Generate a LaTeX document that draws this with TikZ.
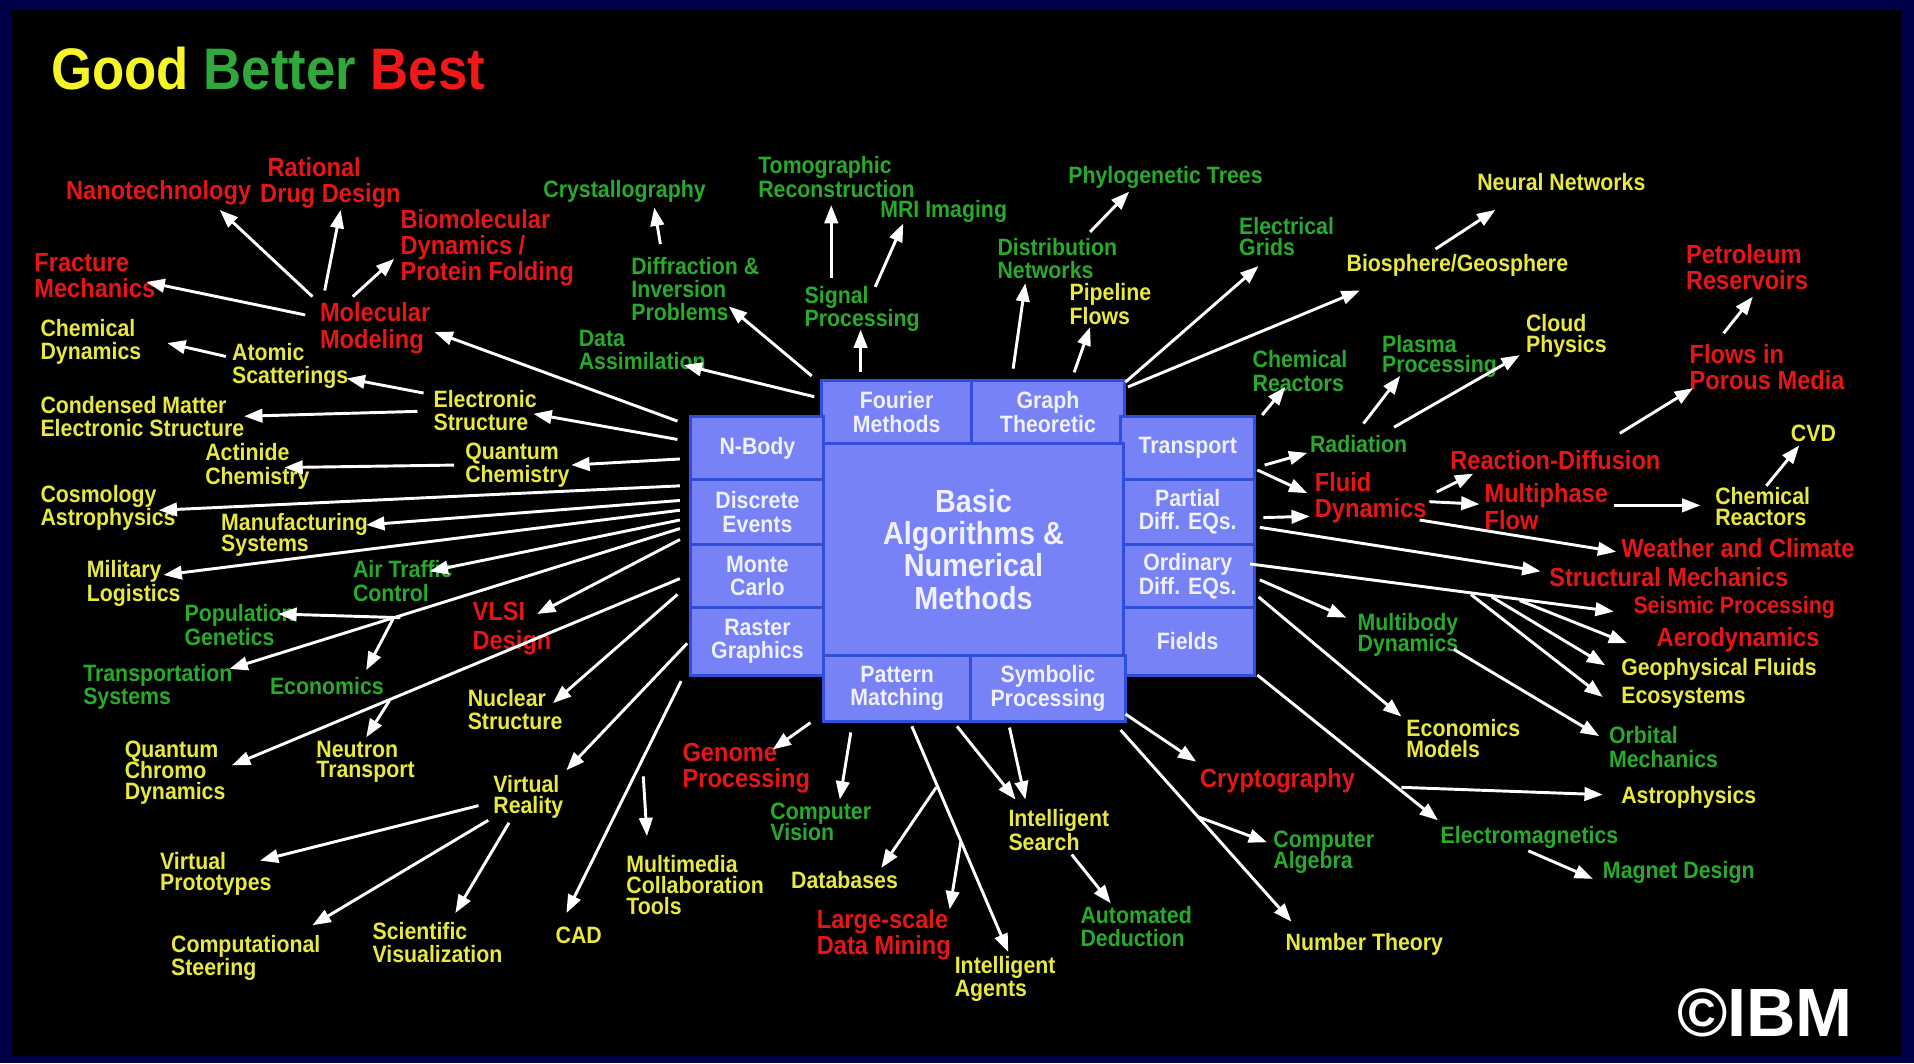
\documentclass[tikz,border=0pt]{standalone}
\usepackage{fontspec}
\setmainfont{Liberation Sans}[FakeStretch=0.9]
\newfontfamily\plainsans{Liberation Sans}
\usetikzlibrary{arrows.meta}
\definecolor{navy}{RGB}{0,0,72}
\definecolor{ylw}{RGB}{232,232,64}
\definecolor{grn}{RGB}{40,170,44}
\definecolor{rd}{RGB}{228,22,22}
\definecolor{tylw}{RGB}{245,245,40}
\definecolor{tgrn}{RGB}{48,168,60}
\definecolor{trd}{RGB}{240,24,24}
\definecolor{cellfill}{RGB}{118,130,246}
\definecolor{cellline}{RGB}{48,78,220}
\definecolor{celltext}{RGB}{240,240,255}
\tikzset{
  lab/.style={inner sep=0pt, anchor=west, align=left, font=\bfseries\fontsize{19.4}{19}\selectfont},
  yl/.style={lab, text=ylw},
  gr/.style={lab, text=grn},
  rl/.style={lab, text=rd, font=\bfseries\fontsize{21.5}{21.5}\selectfont},
  cell/.style={draw=cellline, line width=2.5pt, fill=cellfill, text=celltext, align=center,
    inner sep=0pt, font=\bfseries\fontsize{19.4}{19}\selectfont},
  arr/.style={draw=white, line width=2.4pt, -{Triangle[length=15pt,width=11pt]}},
}
\begin{document}
\begin{tikzpicture}[x=1pt,y=-1pt]
\useasboundingbox (0,0) rectangle (1568,871);
% frame
\fill[navy] (0,0) rectangle (1568,871);
\fill[black] (10,8) rectangle (1558,865);

% title and mark
\node[anchor=base west, inner sep=0pt, font=\bfseries\fontsize{48}{48}\selectfont] (title) at (42,73)
  {\textcolor{tylw}{Good} \textcolor{tgrn}{Better} \textcolor{trd}{Best}};
\node[anchor=base east, inner sep=0pt, text=white, font=\plainsans\bfseries\fontsize{56}{56}\selectfont] (ibm) at (1518,849) {©IBM};

% central block
\node[cell, minimum width=123pt, minimum height=51pt] (fourier) at (734.5,337.5) {Fourier\\Methods};
\node[cell, minimum width=125pt, minimum height=51pt] (graph) at (858.5,337.5) {Graph\\Theoretic};
\node[cell, minimum width=109pt, minimum height=52pt] (nbody) at (620.5,367) {N-Body};
\node[cell, minimum width=109pt, minimum height=53pt] (discrete) at (620.5,419.5) {Discrete\\Events};
\node[cell, minimum width=109pt, minimum height=52pt] (monte) at (620.5,472) {Monte\\Carlo};
\node[cell, minimum width=109pt, minimum height=55pt] (raster) at (620.5,525.5) {Raster\\Graphics};
\node[cell, minimum width=110pt, minimum height=52pt] (transportc) at (973,367) {Transport};
\node[cell, minimum width=110pt, minimum height=53pt] (partial) at (973,419.5) {Partial\\Diff. EQs.};
\node[cell, minimum width=110pt, minimum height=52pt] (ordinary) at (973,472) {Ordinary\\Diff. EQs.};
\node[cell, minimum width=110pt, minimum height=55pt] (fields) at (973,525.5) {Fields};
\node[cell, minimum width=120pt, minimum height=54pt] (pattern) at (735,564) {Pattern\\Matching};
\node[cell, minimum width=127pt, minimum height=54pt] (symbolic) at (858.5,564) {Symbolic\\Processing};
\node[cell, minimum width=245pt, minimum height=174pt, font=\bfseries\fontsize{26.2}{26.5}\selectfont]
  (core) at (797.5,450) {Basic\\Algorithms \&\\Numerical\\Methods};

% application areas
\node[rl] (molmod) at (262,269) {Molecular\\Modeling};
\node[rl] (nano) at (54,158) {Nanotechnology};
\node[rl] (rational) at (213,150) {\hspace*{6pt}Rational\\Drug Design};
\node[rl] (biomol) at (328,203) {Biomolecular\\Dynamics /\\Protein Folding};
\node[rl] (fracture) at (28,226) {Fracture\\Mechanics};
\node[yl] (chemdyn) at (33,280) {Chemical\\Dynamics};
\node[yl] (atomic) at (190,300) {Atomic\\Scatterings};
\node[yl] (condensed) at (33,341) {Condensed Matter\\Electronic Structure};
\node[yl] (electronic) at (355,336) {Electronic\\Structure};
\node[yl] (actinide) at (168,382) {Actinide\\Chemistry};
\node[yl] (quantchem) at (381,381) {Quantum\\Chemistry};
\node[yl] (cosmo) at (33,416) {Cosmology\\Astrophysics};
\node[yl] (manuf) at (181,438) {Manufacturing\\[-2pt]Systems};
\node[yl] (military) at (71,478) {Military\\Logistics};
\node[gr] (airtraffic) at (289,476) {Air Traffic\\Control};
\node[gr] (population) at (151,512) {Population\\Genetics};
\node[rl] (vlsi) at (387,515) {VLSI\\[2pt]Design};
\node[gr] (transp) at (68,563) {Transportation\\Systems};
\node[gr] (economics) at (221,562) {Economics};
\node[yl] (nuclear) at (383,581) {Nuclear\\Structure};
\node[yl] (qcd) at (102,633) {Quantum\\[-2pt]Chromo\\[-2pt]Dynamics};
\node[yl] (neutron) at (259,624) {Neutron\\[-2pt]Transport};
\node[yl] (vreal) at (404,653) {Virtual\\[-2pt]Reality};
\node[yl] (vproto) at (131,716) {Virtual\\[-2pt]Prototypes};
\node[yl] (steer) at (140,785) {Computational\\Steering};
\node[yl] (sciviz) at (305,772) {Scientific\\Visualization};
\node[yl] (cad) at (455,766) {CAD};
\node[yl] (multimedia) at (513,725) {Multimedia\\[-2pt]Collaboration\\[-2pt]Tools};
\node[rl] (genome) at (559,629) {Genome\\Processing};
\node[gr] (compvision) at (631,673) {Computer\\[-2pt]Vision};
\node[yl] (databases) at (648,721) {Databases};
\node[rl] (datamining) at (669,766) {Large-scale\\Data Mining};
\node[yl] (agents) at (782,802) {Intelligent\\Agents};
\node[yl] (isearch) at (826,680) {Intelligent\\Search};
\node[gr] (autoded) at (885,759) {Automated\\Deduction};
\node[yl] (numtheory) at (1053,774) {Number Theory};
\node[gr] (compalg) at (1043,698) {Computer\\[-2pt]Algebra};
\node[rl] (crypto) at (983,640) {Cryptography};
\node[gr] (electromag) at (1180,686) {Electromagnetics};
\node[gr] (magnet) at (1313,715) {Magnet Design};
\node[yl] (astro) at (1328,653) {Astrophysics};
\node[yl] (econmodels) at (1152,605) {Economics\\[-2pt]Models};
\node[gr] (orbital) at (1318,612) {Orbital\\Mechanics};
\node[gr] (multibody) at (1112,520) {Multibody\\[-2pt]Dynamics};
\node[yl] (ecosys) at (1328,572) {Ecosystems};
\node[yl] (geofluids) at (1328,548) {Geophysical Fluids};
\node[rl] (aero) at (1357,524) {Aerodynamics};
\node[rl, font=\bfseries\fontsize{19.4}{19}\selectfont] (seismic) at (1338,498) {Seismic Processing};
\node[rl] (structmech) at (1269,473) {Structural Mechanics};
\node[rl] (weather) at (1328,449) {Weather and Climate};
\node[yl] (chemreact2) at (1405,415) {Chemical\\[-2pt]Reactors};
\node[yl] (cvd) at (1467,355) {CVD};
\node[rl] (multiphase) at (1216,415) {Multiphase\\Flow};
\node[rl] (reacdiff) at (1188,377) {Reaction-Diffusion};
\node[rl] (fluid) at (1077,408) {Fluid\\Dynamics};
\node[gr] (radiation) at (1073,364) {Radiation};
\node[rl] (porous) at (1384,301) {Flows in\\Porous Media};
\node[rl] (petroleum) at (1381,219) {Petroleum\\Reservoirs};
\node[gr] (chemreact1) at (1026,304) {Chemical\\Reactors};
\node[gr] (plasma) at (1132,292) {Plasma\\[-2pt]Processing};
\node[yl] (cloud) at (1250,275) {Cloud\\[-2pt]Physics};
\node[yl] (biosphere) at (1103,217) {Biosphere/Geosphere};
\node[yl] (neural) at (1210,149) {Neural Networks};
\node[gr] (elecgrids) at (1015,194) {Electrical\\[-2pt]Grids};
\node[gr] (phylo) at (875,145) {Phylogenetic Trees};
\node[gr] (distrib) at (817,212) {Distribution\\Networks};
\node[yl] (pipeline) at (876,249) {Pipeline\\Flows};
\node[gr] (tomo) at (621,145) {Tomographic\\Reconstruction};
\node[gr] (mri) at (721,173) {MRI Imaging};
\node[gr] (signal) at (659,253) {Signal\\Processing};
\node[gr] (crystal) at (445,157) {Crystallography};
\node[gr] (diffraction) at (517,237) {Diffraction \&\\Inversion\\Problems};
\node[gr] (dataassim) at (474,287) {Data\\Assimilation};

% arrow end points
\path
 (256,243) coordinate (t1)  (180,172) coordinate (h1)
 (266,238) coordinate (t2)  (279,172) coordinate (h2)
 (289,243) coordinate (t3)  (323,212) coordinate (h3)
 (250,258) coordinate (t4)  (120,231) coordinate (h4)
 (555,345) coordinate (t5)  (356,272) coordinate (h5)
 (185,292) coordinate (t6)  (137,281) coordinate (h6)
 (347,322) coordinate (t7)  (284,310) coordinate (h7)
 (342,337) coordinate (t8)  (200,341) coordinate (h8)
 (555,360) coordinate (t9)  (437,339) coordinate (h9)
 (557,376) coordinate (t10) (468,381) coordinate (h10)
 (372,381) coordinate (t11) (233,383) coordinate (h11)
 (557,398) coordinate (t12) (130,418) coordinate (h12)
 (557,410) coordinate (t13) (300,430) coordinate (h13)
 (557,418) coordinate (t14) (134,471) coordinate (h14)
 (557,426) coordinate (t15) (352,468) coordinate (h15)
 (557,433) coordinate (t16) (188,548) coordinate (h16)
 (328,506) coordinate (t17) (228,503) coordinate (h17)
 (322,507) coordinate (t18) (300,549) coordinate (h18)
 (557,442) coordinate (t19) (440,503) coordinate (h19)
 (557,474) coordinate (t20) (190,627) coordinate (h20)
 (319,574) coordinate (t21) (300,604) coordinate (h21)
 (555,487) coordinate (t22) (453,576) coordinate (h22)
 (563,527) coordinate (t23) (464,631) coordinate (h23)
 (558,558) coordinate (t24) (464,748) coordinate (h24)
 (527,636) coordinate (t25) (530,685) coordinate (h25)
 (392,660) coordinate (t26) (213,705) coordinate (h26)
 (400,672) coordinate (t27) (256,758) coordinate (h27)
 (417,674) coordinate (t28) (373,748) coordinate (h28)
 (664,592) coordinate (t29) (633,614) coordinate (h29)
 (697,600) coordinate (t30) (688,655) coordinate (h30)
 (747,595) coordinate (t31) (826,780) coordinate (h31)
 (767,645) coordinate (t32) (722,711) coordinate (h32)
 (787,690) coordinate (t33) (778,745) coordinate (h33)
 (784,595) coordinate (t34) (832,655) coordinate (h34)
 (827,596) coordinate (t35) (840,655) coordinate (h35)
 (878,700) coordinate (t36) (910,740) coordinate (h36)
 (922,585) coordinate (t37) (980,624) coordinate (h37)
 (918,598) coordinate (t38) (1058,755) coordinate (h38)
 (981,669) coordinate (t39) (1038,690) coordinate (h39)
 (1148,645) coordinate (t40) (1313,651) coordinate (h40)
 (1030,553) coordinate (t41) (1178,672) coordinate (h41)
 (1252,697) coordinate (t42) (1305,720) coordinate (h42)
 (1031,489) coordinate (t43) (1148,587) coordinate (h43)
 (1032,475) coordinate (t44) (1103,506) coordinate (h44)
 (1191,532) coordinate (t45) (1310,603) coordinate (h45)
 (1024,462) coordinate (t46) (1322,501) coordinate (h46)
 (1205,487) coordinate (t47) (1313,571) coordinate (h47)
 (1222,489) coordinate (t48) (1315,545) coordinate (h48)
 (1245,492) coordinate (t49) (1333,527) coordinate (h49)
 (1032,432) coordinate (t50) (1262,468) coordinate (h50)
 (1163,426) coordinate (t51) (1324,452) coordinate (h51)
 (1035,424) coordinate (t52) (1073,423) coordinate (h52)
 (1030,385) coordinate (t53) (1071,404) coordinate (h53)
 (1036,381) coordinate (t54) (1071,371) coordinate (h54)
 (1177,403) coordinate (t55) (1207,388) coordinate (h55)
 (1171,411) coordinate (t56) (1212,413) coordinate (h56)
 (1322,414) coordinate (t57) (1393,414) coordinate (h57)
 (1447,398) coordinate (t58) (1474,365) coordinate (h58)
 (1327,355) coordinate (t59) (1387,318) coordinate (h59)
 (1412,273) coordinate (t60) (1436,243) coordinate (h60)
 (1034,340) coordinate (t61) (1053,317) coordinate (h61)
 (1117,347) coordinate (t62) (1147,308) coordinate (h62)
 (1142,350) coordinate (t63) (1245,291) coordinate (h63)
 (922,313)  coordinate (t64) (1031,218) coordinate (h64)
 (924,317)  coordinate (t65) (1114,238) coordinate (h65)
 (1176,204) coordinate (t66) (1225,172) coordinate (h66)
 (880,305)  coordinate (t67) (893,268) coordinate (h67)
 (830,302)  coordinate (t68) (840,232) coordinate (h68)
 (893,190)  coordinate (t69) (925,157) coordinate (h69)
 (681,228)  coordinate (t70) (681,168) coordinate (h70)
 (717,235)  coordinate (t71) (740,183) coordinate (h71)
 (705,305)  coordinate (t72) (705,270) coordinate (h72)
 (665,308)  coordinate (t73) (597,251) coordinate (h73)
 (667,325)  coordinate (t74) (560,299) coordinate (h74)
 (541,200)  coordinate (t75) (536,170) coordinate (h75);

% arrows
\foreach \i in {1,...,75} \draw[arr] (t\i) -- (h\i);
\end{tikzpicture}
\end{document}
